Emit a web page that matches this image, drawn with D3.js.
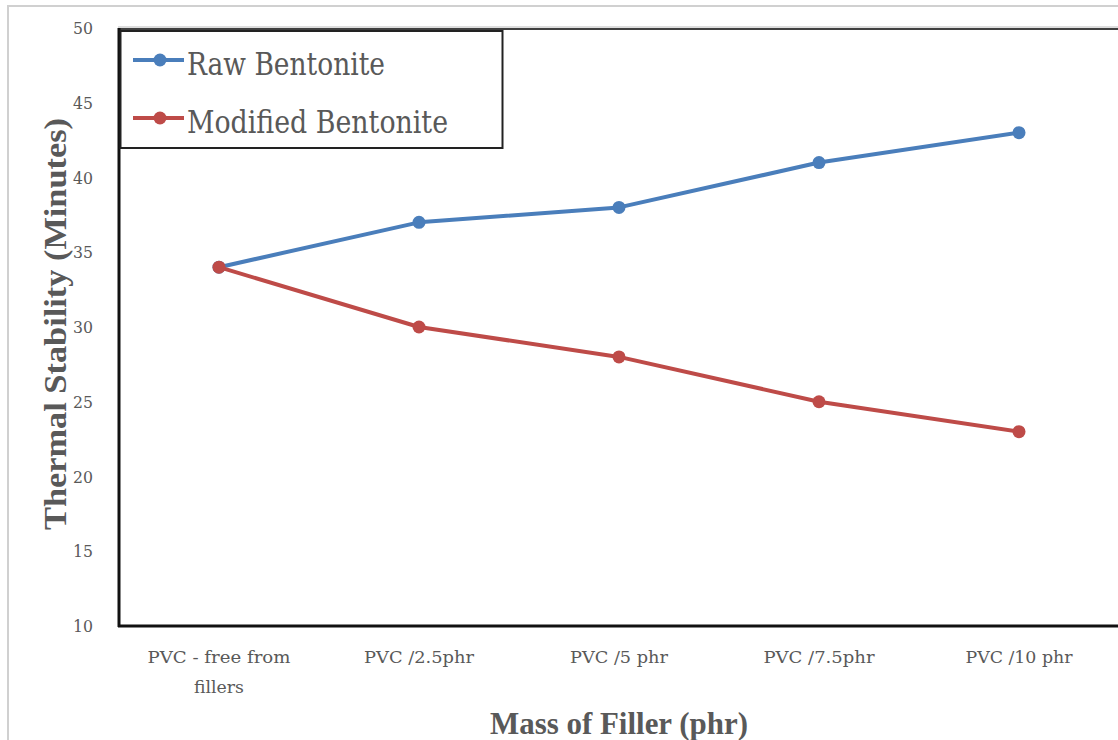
<!DOCTYPE html>
<html>
<head>
<meta charset="utf-8">
<script src="https://cdn.jsdelivr.net/npm/d3@7"></script>
<style>
  body { margin: 0; background: #fff; }
  svg { display: block; }
  text { font-family: "DejaVu Serif", "Liberation Serif", serif; fill: #595959; }
  .bold { font-family: "Liberation Serif", "DejaVu Serif", serif; font-weight: bold; }
</style>
</head>
<body>
<svg id="chart" width="1118" height="740"></svg>
<script>
// chart data
const categories = ["PVC - free from|fillers", "PVC /2.5phr", "PVC /5 phr", "PVC /7.5phr", "PVC /10 phr"]
const rawBentonite = [34, 37, 38, 41, 43]
const modifiedBentonite = [34, 30, 28, 25, 23]
const yTicks = [10, 15, 20, 25, 30, 35, 40, 45, 50]
const seriesNames = ["Raw Bentonite", "Modified Bentonite"]
const seriesColors = ["#4a7ebb", "#be4b48"]

const svg = d3.select('#chart')

// outer chart frame (cut off at right/bottom in the original)
svg.append('path').attr('d', 'M8,760 L8,6 L1130,6')
    .style('fill', 'none').style('stroke', '#d0d0d0').style('stroke-width', 2)

const xScale = d3.scaleBand().domain(categories).range([119, 1119])
const yScale = d3.scaleLinear().domain([10, 50]).range([626, 28])

// plot area frame
svg.append('line').attr('x1', 118).attr('x2', 1130).attr('y1', 27).attr('y2', 27)
    .style('stroke', '#bbbbbb').style('stroke-width', 1)
svg.append('line').attr('x1', 118).attr('x2', 1130).attr('y1', 29).attr('y2', 29)
    .style('stroke', '#404040').style('stroke-width', 2)
svg.append('line').attr('x1', 119).attr('x2', 119).attr('y1', 28).attr('y2', 627)
    .style('stroke', '#111').style('stroke-width', 3)
svg.append('line').attr('x1', 118).attr('x2', 1130).attr('y1', 626).attr('y2', 626)
    .style('stroke', '#111').style('stroke-width', 3)

// y tick labels
svg.selectAll('.ytick').data(yTicks).enter().append('text')
    .attr('class', 'ytick')
    .attr('x', 93).attr('y', d => yScale(d) + 6)
    .attr('text-anchor', 'end')
    .attr('textLength', 20).attr('lengthAdjust', 'spacingAndGlyphs')
    .style('font-size', '17px')
    .text(d => d)

// x tick labels, widths
const xLabelWidths = [[143, 50], [110], [98], [111], [107]]
const xt = svg.selectAll('.xtick').data(categories).enter().append('text')
    .attr('class', 'xtick')
    .attr('text-anchor', 'middle')
    .style('font-size', '17px')
xt.each(function (d, k) {
    const lines = d.split('|')
    const cx = xScale(d) + xScale.bandwidth() / 2
    d3.select(this).selectAll('tspan').data(lines).enter().append('tspan')
        .attr('x', cx).attr('y', (l, i) => 663 + i * 30)
        .attr('textLength', (l, i) => xLabelWidths[k][i]).attr('lengthAdjust', 'spacingAndGlyphs')
        .text(l => l)
})

// axis titles
svg.append('text').attr('class', 'bold')
    .attr('transform', 'translate(66,324) rotate(-90)')
    .attr('text-anchor', 'middle')
    .attr('textLength', 412).attr('lengthAdjust', 'spacingAndGlyphs')
    .style('font-size', '32px')
    .text('Thermal Stability (Minutes)')
svg.append('text').attr('class', 'bold')
    .attr('x', 619).attr('y', 734)
    .attr('text-anchor', 'middle')
    .attr('textLength', 258).attr('lengthAdjust', 'spacingAndGlyphs')
    .style('font-size', '32px')
    .text('Mass of Filler (phr)')

// series
const series = [rawBentonite, modifiedBentonite]
const line = d3.line()
    .x((v, i) => xScale(categories[i]) + xScale.bandwidth() / 2)
    .y(v => yScale(v))

series.forEach((vals, s) => {
    svg.append('path').datum(vals)
        .attr('d', line)
        .style('fill', 'none').style('stroke', seriesColors[s]).style('stroke-width', 4)
        .style('stroke-linejoin', 'round')
    svg.selectAll('.pt' + s).data(vals).enter().append('circle')
        .attr('class', 'pt' + s)
        .attr('cx', (v, i) => xScale(categories[i]) + xScale.bandwidth() / 2)
        .attr('cy', v => yScale(v))
        .attr('r', 6.5)
        .style('fill', seriesColors[s])
})

// legend
const legendWidths = [198, 261]
const legend = svg.append('g')
legend.append('rect').attr('x', 120.5).attr('y', 31).attr('width', 382).attr('height', 117)
    .style('fill', '#fff').style('stroke', '#222').style('stroke-width', 2)
seriesNames.forEach((name, i) => {
    const ly = 60 + i * 58
    legend.append('line').attr('x1', 133).attr('x2', 184).attr('y1', ly).attr('y2', ly)
        .style('stroke', seriesColors[i]).style('stroke-width', 4)
    legend.append('circle').attr('cx', 160).attr('cy', ly).attr('r', 6.5)
        .style('fill', seriesColors[i])
    legend.append('text').attr('x', 187).attr('y', ly + 15)
        .attr('textLength', legendWidths[i]).attr('lengthAdjust', 'spacingAndGlyphs')
        .style('font-size', '31px')
        .text(name)
})
</script>
</body>
</html>
